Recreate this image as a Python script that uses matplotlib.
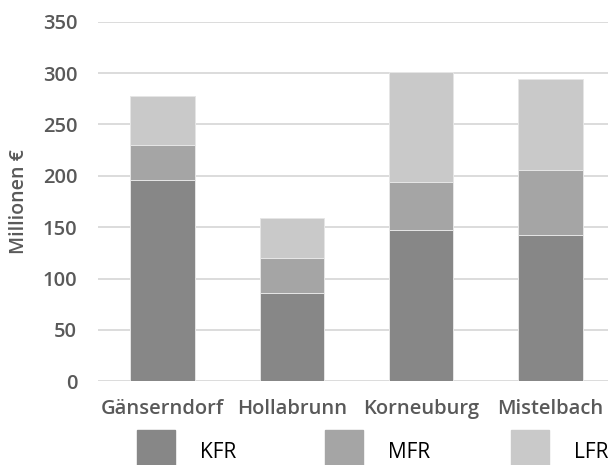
import matplotlib.pyplot as plt
import numpy as np
import matplotlib.patches as mpatches

plt.rcParams['font.family'] = ['Open Sans', 'DejaVu Sans']

districts = ['Gänserndorf', 'Hollabrunn', 'Korneuburg', 'Mistelbach']
series = ['KFR', 'MFR', 'LFR']
kfr = [196, 86, 147, 142]
mfr = [34, 34, 47, 64]
lfr = [48, 39, 107, 88]
yticks = [0, 50, 100, 150, 200, 250, 300, 350]

colors = {'KFR': '#878787', 'MFR': '#a5a5a5', 'LFR': '#c9c9c9'}
text_color = '#595959'


def district_chart():
    fig = plt.figure(figsize=(6.08, 4.65), dpi=100)
    ax = fig.add_axes([98 / 608, 1 - 381.3 / 465, 517 / 608, 359.6 / 465])

    idx = np.arange(len(districts))
    bottom = np.zeros(len(districts))
    for name, vals in zip(series, [kfr, mfr, lfr]):
        ax.bar(idx, vals, 0.5, bottom=bottom, color=colors[name],
               edgecolor='#e6e6e6', linewidth=0.7, zorder=3)
        bottom = bottom + np.array(vals)

    ax.set_xlim(-0.5, len(districts) - 0.5)
    ax.set_ylim(0, 350)
    ax.set_yticks(yticks)
    ax.set_xticks(idx, districts)
    ax.yaxis.grid(True, color='#d9d9d9', linewidth=1.3, zorder=0)
    ax.set_axisbelow(True)
    for s in ax.spines.values():
        s.set_visible(False)
    ax.tick_params(length=0, labelcolor=text_color, labelsize=14.5)
    for lbl in ax.get_xticklabels() + ax.get_yticklabels():
        lbl.set_fontweight('semibold')
    ax.tick_params(axis='y', pad=15)
    ax.tick_params(axis='x', pad=13)
    ax.set_ylabel('Millionen €', color=text_color, fontsize=14,
                  fontweight='semibold', labelpad=10)

    # legend row along the bottom edge
    legend_x = [137, 325, 511]
    for name, x in zip(series, legend_x):
        fig.patches.append(mpatches.Rectangle(
            (x / 608, 0), 38 / 608, 35 / 465, transform=fig.transFigure,
            color=colors[name], figure=fig))
        fig.text((x + 63) / 608, 1 - 452 / 465, name, fontsize=15,
                 color='black', va='center', ha='left')

    fig.savefig('out.png', dpi=100)


if __name__ == '__main__':
    district_chart()
